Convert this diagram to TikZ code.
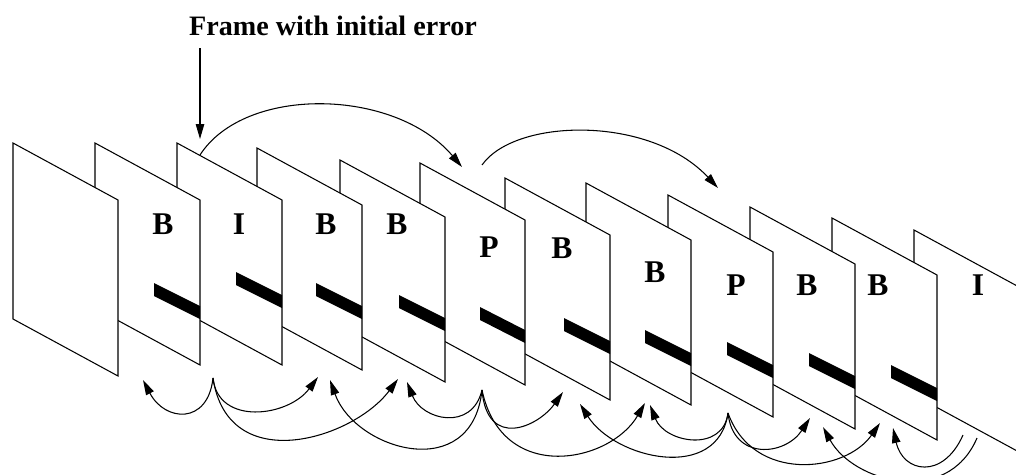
\documentclass[tikz,border=0pt]{standalone}
\usepackage{fontspec}
\setmainfont{Liberation Serif}
\usetikzlibrary{arrows.meta}

\begin{document}
\begin{tikzpicture}
  [
    x=0.02cm, y=-0.02cm,
    frm/.style={draw=black, fill=white, line width=0.6pt},
    bar/.style={fill=black},
    lbl/.style={inner sep=0pt, font=\fontsize{18}{21}\selectfont\bfseries},
    dep/.style={draw=black, line width=0.6pt, -{Triangle[length=3mm,width=1.7mm]}}
  ]

  \path[use as bounding box, fill=white] (0,0) rectangle (1016,474);
  \clip (0,0) rectangle (1016,474);

  % frames, back to front
  \draw[frm] (914,230) -- ++(105,57) -- ++(0,165) -- ++(-105,-57) -- cycle;
  \draw[frm] (832,218) -- ++(105,57) -- ++(0,165) -- ++(-105,-57) -- cycle;
  \draw[frm] (750,207) -- ++(105,57) -- ++(0,165) -- ++(-105,-57) -- cycle;
  \draw[frm] (668,195) -- ++(105,57) -- ++(0,165) -- ++(-105,-57) -- cycle;
  \draw[frm] (586,183) -- ++(105,57) -- ++(0,165) -- ++(-105,-57) -- cycle;
  \draw[frm] (505,178) -- ++(105,57) -- ++(0,165) -- ++(-105,-57) -- cycle;
  \draw[frm] (420,163) -- ++(105,57) -- ++(0,165) -- ++(-105,-57) -- cycle;
  \draw[frm] (340,160) -- ++(105,57) -- ++(0,165) -- ++(-105,-57) -- cycle;
  \draw[frm] (257,148) -- ++(105,57) -- ++(0,165) -- ++(-105,-57) -- cycle;
  \draw[frm] (177,143) -- ++(105,57) -- ++(0,165) -- ++(-105,-57) -- cycle;
  \draw[frm] ( 95,143) -- ++(105,57) -- ++(0,165) -- ++(-105,-57) -- cycle;
  \draw[frm] ( 13,143) -- ++(105,57) -- ++(0,176) -- ++(-105,-57) -- cycle;

  % error bars
  \fill[bar] (154,283) -- ++(46,23) -- ++(0,13) -- ++(-46,-23) -- cycle;
  \fill[bar] (236,272) -- ++(46,23) -- ++(0,13) -- ++(-46,-23) -- cycle;
  \fill[bar] (316,283) -- ++(46,23) -- ++(0,13) -- ++(-46,-23) -- cycle;
  \fill[bar] (399,295) -- ++(46,23) -- ++(0,13) -- ++(-46,-23) -- cycle;
  \fill[bar] (480,307) -- ++(45,23) -- ++(0,13) -- ++(-45,-23) -- cycle;
  \fill[bar] (564,318) -- ++(46,23) -- ++(0,13) -- ++(-46,-23) -- cycle;
  \fill[bar] (645,330) -- ++(46,23) -- ++(0,13) -- ++(-46,-23) -- cycle;
  \fill[bar] (727,342) -- ++(46,23) -- ++(0,13) -- ++(-46,-23) -- cycle;
  \fill[bar] (809,353) -- ++(46,23) -- ++(0,13) -- ++(-46,-23) -- cycle;
  \fill[bar] (891,365) -- ++(46,23) -- ++(0,13) -- ++(-46,-23) -- cycle;

  % frame types
  \node (lB1)  at (163,224) [lbl] {B};
  \node (lI2)  at (239,224) [lbl] {I};
  \node (lB3)  at (326,224) [lbl] {B};
  \node (lB4)  at (397,224) [lbl] {B};
  \node (lP5)  at (489,247) [lbl] {P};
  \node (lB6)  at (562,248) [lbl] {B};
  \node (lB7)  at (655,272) [lbl] {B};
  \node (lP8)  at (736,285) [lbl] {P};
  \node (lB9)  at (807,285) [lbl] {B};
  \node (lB10) at (878,285) [lbl] {B};
  \node (lI11) at (978,285) [lbl] {I};

  % title and forward references
  \node (ttl) at (333,35) [anchor=base, inner sep=0pt, font=\fontsize{16}{19}\selectfont\bfseries] {Frame with initial error};
  \coordinate (errs) at (200,48);
  \coordinate (errt) at (200,139);
  \coordinate (i2top) at (200,155);
  \coordinate (p5in)  at (462,167);
  \coordinate (p5top) at (482,165);
  \coordinate (p8in)  at (718,188);

  \draw [dep] (errs) -- (errt);
  \draw [dep] (i2top) .. controls (245,85) and (395,88) .. (p5in);
  \draw [dep] (p5top) .. controls (515,118) and (650,115) .. (p8in);

  % backward / bidirectional references
  \coordinate (s2)   at (213,378);
  \coordinate (s5)   at (482,390);
  \coordinate (s8)   at (728,413);
  \coordinate (s11a) at (963,435);
  \coordinate (s11b) at (977,438);
  \coordinate (t1)   at (143,380);
  \coordinate (t3a)  at (318,377);
  \coordinate (t3b)  at (330,380);
  \coordinate (t4a)  at (398,379);
  \coordinate (t4b)  at (407,382);
  \coordinate (t6a)  at (563,392);
  \coordinate (t6b)  at (580,404);
  \coordinate (t7a)  at (645,403);
  \coordinate (t7b)  at (650,405);
  \coordinate (t9a)  at (810,418);
  \coordinate (t9b)  at (823,427);
  \coordinate (t10a) at (880,423);
  \coordinate (t10b) at (893,428);

  \draw [dep] (s2) .. controls +(-5,47) and +(22,42) .. (t1);
  \draw [dep] (s2) .. controls +(5,48) and +(-30,40) .. (t3a);
  \draw [dep] (s2) .. controls +(15,100) and +(-45,60) .. (t4a);
  \draw [dep] (s5) .. controls +(-10,95) and +(25,70) .. (t3b);
  \draw [dep] (s5) .. controls +(-10,42) and +(15,38) .. (t4b);
  \draw [dep] (s5) .. controls +(5,60) and +(-25,35) .. (t6a);
  \draw [dep] (s5) .. controls +(20,95) and +(-35,60) .. (t7a);
  \draw [dep] (s8) .. controls +(-10,70) and +(35,55) .. (t6b);
  \draw [dep] (s8) .. controls +(-5,40) and +(15,38) .. (t7b);
  \draw [dep] (s8) .. controls +(5,48) and +(-25,38) .. (t9a);
  \draw [dep] (s8) .. controls +(25,70) and +(-35,50) .. (t10a);
  \draw [dep] (s11b) .. controls +(-30,70) and +(30,55) .. (t9b);
  \draw [dep] (s11a) .. controls +(-20,45) and +(10,45) .. (t10b);
\end{tikzpicture}
\end{document}
